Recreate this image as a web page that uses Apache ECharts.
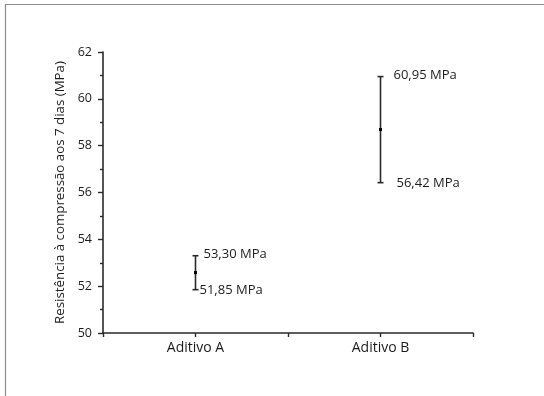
<!DOCTYPE html>
<html>
<head>
<meta charset="utf-8">
<script src="https://cdn.jsdelivr.net/npm/echarts@6/dist/echarts.min.js"></script>
<style>
html,body{margin:0;padding:0;background:#fff;}
#c{width:544px;height:396px;}
</style>
</head>
<body>
<div id="c"></div>
<script>
// Data
const categories = ['Aditivo A', 'Aditivo B'];
const lowValues = [51.85, 56.42];
const highValues = [53.30, 60.95];
const meanValues = [52.58, 58.69];
const yTicks = [50, 52, 54, 56, 58, 60, 62];
const yAxisTitle = 'Resistência à compressão aos 7 dias (MPa)';

const FONT = '"Open Sans", sans-serif';
const TEXT = '#1c1c1c';
// label horizontal offsets (style only): [top, bottom] per bar
const labelDx = [[8, 4], [13, 16]];

function fmt(v) { return v.toFixed(2).replace('.', ',') + ' MPa'; }

const chart = echarts.init(document.getElementById('c'), null, {renderer: 'canvas'});

const seriesData = categories.map((c, i) => [i + 1, lowValues[i], highValues[i], meanValues[i]]);

chart.setOption({
  animation: false,
  backgroundColor: '#fff',
  graphic: [{
    type: 'rect',
    shape: {x: 5.5, y: 4.5, width: 700, height: 600},
    style: {fill: 'none', stroke: '#8c8c8c', lineWidth: 1.2},
    silent: true, z: 100
  }],
  grid: {left: 103, top: 52, right: 71, bottom: 63},
  xAxis: {
    type: 'value', min: 0.5, max: 2.5, interval: 0.5,
    axisLine: {show: true, lineStyle: {color: '#2a2a2a', width: 1.6}},
    axisTick: {show: true, length: 4, lineStyle: {color: '#2a2a2a', width: 1.4}},
    splitLine: {show: false},
    axisLabel: {
      margin: 8, color: TEXT, fontFamily: FONT, fontSize: 14,
      formatter: v => {
        const idx = Math.round(v) - 1;
        return (Math.abs(v - Math.round(v)) < 1e-6 && categories[idx]) ? categories[idx] : '';
      }
    }
  },
  yAxis: {
    type: 'value', min: yTicks[0], max: yTicks[yTicks.length - 1], interval: 2,
    name: yAxisTitle, nameLocation: 'middle', nameGap: 34,
    nameTextStyle: {color: TEXT, fontFamily: FONT, fontSize: 13.3},
    axisLine: {show: true, lineStyle: {color: '#2a2a2a', width: 1.6}},
    axisTick: {show: true, length: 5, lineStyle: {color: '#2a2a2a', width: 1.4}},
    minorTick: {show: true, splitNumber: 2, length: 3, lineStyle: {color: '#2a2a2a', width: 1.4}},
    splitLine: {show: false},
    axisLabel: {margin: 11, color: TEXT, fontFamily: FONT, fontSize: 12.5}
  },
  series: [{
    type: 'custom',
    data: seriesData,
    renderItem: function (params, api) {
      const i = params.dataIndex;
      const x = api.value(0);
      const lo = api.coord([x, api.value(1)]);
      const hi = api.coord([x, api.value(2)]);
      const me = api.coord([x, api.value(3)]);
      const cap = 3;
      const ls = {stroke: '#2a2a2a', lineWidth: 1.6};
      return {
        type: 'group',
        children: [
          {type: 'line', shape: {x1: lo[0], y1: lo[1], x2: hi[0], y2: hi[1]}, style: ls},
          {type: 'line', shape: {x1: hi[0] - cap, y1: hi[1], x2: hi[0] + cap, y2: hi[1]}, style: ls},
          {type: 'line', shape: {x1: lo[0] - cap, y1: lo[1], x2: lo[0] + cap, y2: lo[1]}, style: ls},
          {type: 'rect', shape: {x: me[0] - 1.5, y: me[1] - 1.5, width: 3, height: 3}, style: {fill: '#000'}},
          {type: 'text', style: {text: fmt(api.value(2)), x: hi[0] + labelDx[i][0], y: hi[1] - 1,
            fill: TEXT, font: '13px ' + FONT, textAlign: 'left', textVerticalAlign: 'middle'}},
          {type: 'text', style: {text: fmt(api.value(1)), x: lo[0] + labelDx[i][1], y: lo[1] + 1,
            fill: TEXT, font: '13px ' + FONT, textAlign: 'left', textVerticalAlign: 'middle'}}
        ]
      };
    }
  }]
});
</script>
</body>
</html>
